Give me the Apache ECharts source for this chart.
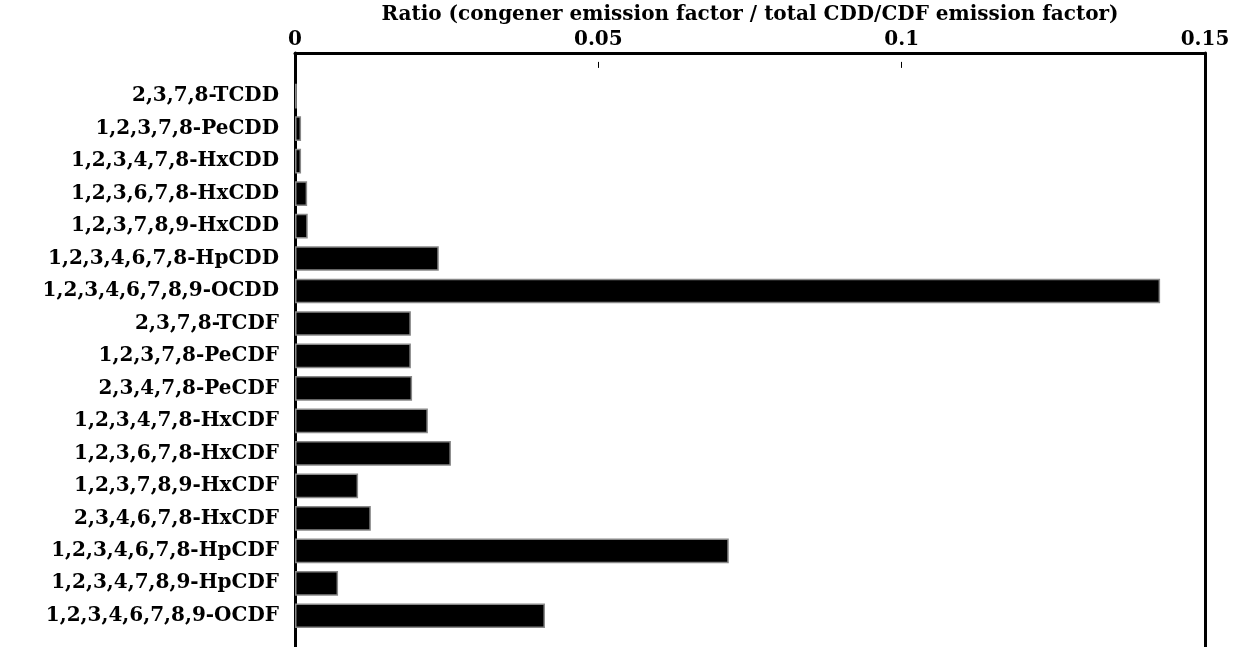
<!DOCTYPE html>
<html>
<head>
<meta charset="utf-8">
<script src="https://cdn.jsdelivr.net/npm/echarts@6/dist/echarts.min.js"></script>
<style>
html,body{margin:0;padding:0;background:#fff;}
#chart{width:1243px;height:647px;}
</style>
</head>
<body>
<div id="chart"></div>
<script>
const categories = [
  '2,3,7,8-TCDD',
  '1,2,3,7,8-PeCDD',
  '1,2,3,4,7,8-HxCDD',
  '1,2,3,6,7,8-HxCDD',
  '1,2,3,7,8,9-HxCDD',
  '1,2,3,4,6,7,8-HpCDD',
  '1,2,3,4,6,7,8,9-OCDD',
  '2,3,7,8-TCDF',
  '1,2,3,7,8-PeCDF',
  '2,3,4,7,8-PeCDF',
  '1,2,3,4,7,8-HxCDF',
  '1,2,3,6,7,8-HxCDF',
  '1,2,3,7,8,9-HxCDF',
  '2,3,4,6,7,8-HxCDF',
  '1,2,3,4,6,7,8-HpCDF',
  '1,2,3,4,7,8,9-HpCDF',
  '1,2,3,4,6,7,8,9-OCDF'
];
const ratios = [
  0.0003, 0.001, 0.001, 0.002, 0.0021, 0.0237, 0.1426,
  0.0191, 0.0191, 0.0193, 0.0219, 0.0257, 0.0104, 0.0125,
  0.0715, 0.0071, 0.0412
];
const axisTitle = 'Ratio (congener emission factor / total CDD/CDF emission factor)';
const xMin = 0, xMax = 0.15, xStep = 0.05;

const FONT = 'DejaVu Serif';
const frameLine = {show: true, onZero: false, lineStyle: {color: '#000', width: 3}};
const chart = echarts.init(document.getElementById('chart'), null, {renderer: 'canvas'});
chart.setOption({
  animation: false,
  backgroundColor: '#fff',
  grid: [
    {left: 295, right: 38, top: 53, bottom: 0, containLabel: false},
    {left: 295, right: 38, top: 71, bottom: 15, containLabel: false}
  ],
  xAxis: [
    {gridIndex: 0, type: 'value', position: 'top', min: 0, max: 1,
     axisLine: frameLine, axisTick: {show: false}, axisLabel: {show: false}, splitLine: {show: false}},
    {gridIndex: 1, type: 'value', position: 'top', offset: 18,
     min: xMin, max: xMax, interval: xStep,
     name: axisTitle, nameLocation: 'middle', nameGap: 33,
     nameTextStyle: {fontFamily: FONT, fontSize: 20, fontWeight: 'bold', color: '#000'},
     axisLine: {show: false},
     axisTick: {show: true, inside: true, length: 6, lineStyle: {color: '#000', width: 1}},
     splitLine: {show: false},
     axisLabel: {fontFamily: FONT, fontSize: 20, fontWeight: 'bold', color: '#000', margin: 12,
       formatter: v => String(parseFloat(v.toFixed(4)))}}
  ],
  yAxis: [
    {gridIndex: 0, type: 'value', position: 'left', min: 0, max: 1,
     axisLine: frameLine, axisTick: {show: false}, axisLabel: {show: false}, splitLine: {show: false}},
    {gridIndex: 0, type: 'value', position: 'right', min: 0, max: 1,
     axisLine: frameLine, axisTick: {show: false}, axisLabel: {show: false}, splitLine: {show: false}},
    {gridIndex: 1, type: 'category', inverse: true, data: categories,
     axisLine: {show: false}, axisTick: {show: false}, splitLine: {show: false},
     axisLabel: {fontFamily: FONT, fontSize: 20, fontWeight: 'bold', color: '#000', margin: 16}}
  ],
  series: [{
    type: 'bar',
    xAxisIndex: 1, yAxisIndex: 2,
    data: ratios,
    barCategoryGap: '24%',
    itemStyle: {color: '#000', borderColor: '#888', borderWidth: 1.5}
  }]
});
</script>
</body>
</html>
